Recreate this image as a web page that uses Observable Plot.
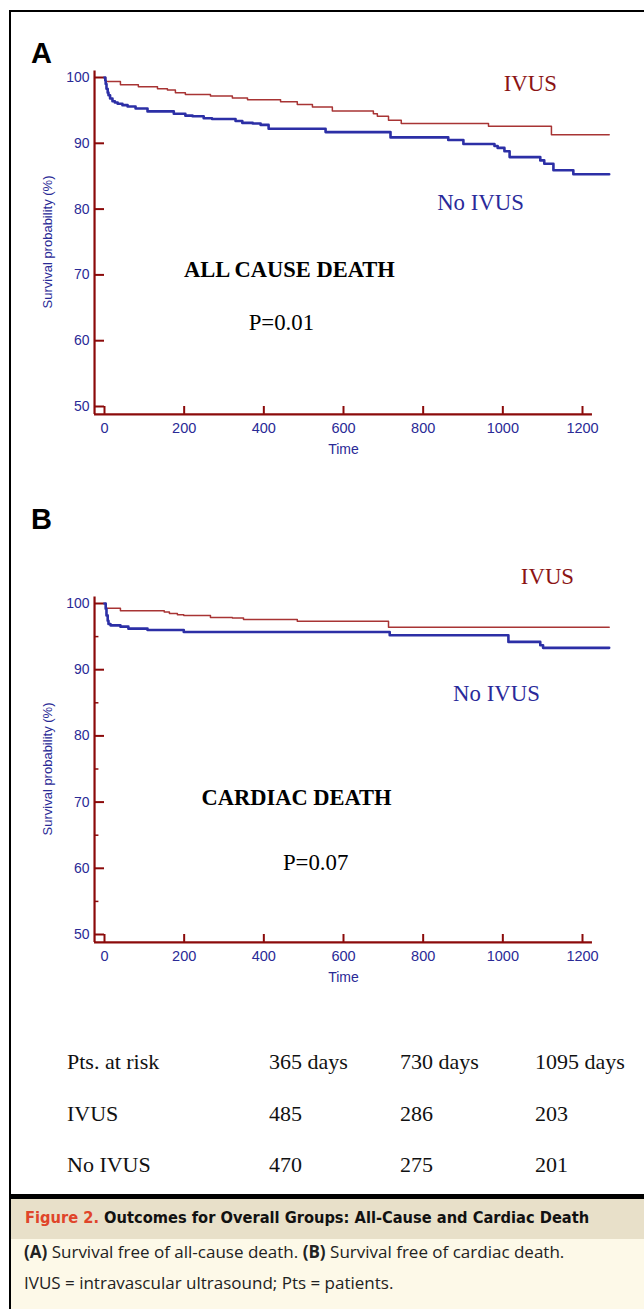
<!DOCTYPE html>
<html>
<head>
<meta charset="utf-8">
<script src="https://cdn.jsdelivr.net/npm/d3@7"></script>
<script src="https://cdn.jsdelivr.net/npm/@observablehq/plot@0.6"></script>
<style>
  html, body { margin: 0; padding: 0; }
  body { width: 644px; height: 1309px; position: relative; overflow: hidden; background: #fff; }
  .abs { position: absolute; }
  .plabel { font-family: "Liberation Sans", Arial, sans-serif; font-weight: bold; font-size: 29px; color: #000; }
  .tbl { font-family: "Liberation Serif", serif; font-size: 22px; color: #111; white-space: nowrap; }
</style>
</head>
<body>
<script>
// ---- Data ----
// Panel A: all-cause death, Kaplan–Meier steps (days, survival %)
const ivusA_days = [0, 3, 40, 85, 133, 158, 178, 203, 266, 321, 359, 442, 484, 522, 572, 675, 685, 713, 745, 964, 1122, 1267];
const ivusA_surv = [100, 99.4, 98.9, 98.6, 98.3, 98.1, 97.7, 97.4, 97.2, 96.9, 96.6, 96.3, 95.9, 95.5, 94.9, 94.5, 94.1, 93.5, 93.0, 92.6, 91.3, 91.3];
const noIvusA_days = [0, 2, 3, 5, 8, 10, 14, 20, 26, 33, 45, 58, 78, 108, 174, 203, 221, 249, 270, 329, 346, 372, 392, 412, 555, 718, 863, 901, 979, 987, 1004, 1017, 1094, 1104, 1127, 1177, 1267];
const noIvusA_surv = [100, 99.5, 99.0, 98.3, 97.7, 97.3, 96.8, 96.4, 96.2, 96.0, 95.8, 95.6, 95.3, 94.85, 94.5, 94.2, 94.1, 93.8, 93.7, 93.4, 93.1, 93.0, 92.8, 92.2, 91.7, 90.9, 90.5, 89.9, 89.6, 89.3, 88.8, 87.9, 87.4, 86.9, 85.9, 85.3, 85.3];
// Panel B: cardiac death
const ivusB_days = [0, 3, 40, 150, 163, 183, 199, 266, 321, 349, 484, 713, 1267];
const ivusB_surv = [100, 99.3, 98.9, 98.7, 98.5, 98.3, 98.2, 97.9, 97.8, 97.6, 97.3, 96.4, 96.4];
const noIvusB_days = [0, 3, 5, 8, 10, 15, 40, 60, 108, 199, 716, 1014, 1094, 1101, 1267];
const noIvusB_surv = [100, 99.2, 98.2, 97.4, 96.9, 96.7, 96.5, 96.2, 96.0, 95.7, 95.2, 94.2, 93.7, 93.3, 93.3];

const xTicks = [0, 200, 400, 600, 800, 1000, 1200];
const yTicks = [50, 60, 70, 80, 90, 100];
const yMinorTicksB = [55, 65, 75, 85, 95];

// Risk table
const riskHeaders = ["Pts. at risk", "365 days", "730 days", "1095 days"];
const riskGroups = ["IVUS", "No IVUS"];
const riskIVUS = [485, 286, 203];
const riskNoIVUS = [470, 275, 201];

// ---- Styles ----
const AXIS = "#8b0a0a";
const LBL = "#2a2a96";
const RED = "#a83434";
const BLUE = "#2c2fa6";
const AXIS_X = -25;   // y-axis line position (days)
const AXIS_Y = 48.8;  // x-axis line position (%)
const SANS = "Liberation Sans, Arial, sans-serif";
const SERIF = "Liberation Serif, serif";

function series(days, surv, group) {
  return days.map((d, i) => ({day: d, surv: surv[i], group}));
}

function panel(opts) {
  const {ivus, noIvus, top, yRange, texts, minor} = opts;
  const marks = [
    Plot.ruleX([AXIS_X], {y1: AXIS_Y, y2: 101, stroke: AXIS, strokeWidth: 2.2}),
    Plot.ruleY([AXIS_Y], {x1: AXIS_X, x2: 1225, stroke: AXIS, strokeWidth: 2.2}),
    Plot.ruleX(xTicks, {x: d => d, y1: AXIS_Y, y2: 50, stroke: AXIS, strokeWidth: 2}),
    Plot.ruleY(yTicks, {y: d => d, x1: AXIS_X, x2: 0, stroke: AXIS, strokeWidth: 2}),
  ];
  if (minor) marks.push(Plot.ruleY(minor, {y: d => d, x1: AXIS_X, x2: -14, stroke: AXIS, strokeWidth: 1.5}));
  marks.push(
    Plot.text(xTicks, {x: d => d, y: AXIS_Y, dy: 14, text: d => String(d), fill: LBL, fontSize: 14.5, fontFamily: SANS}),
    Plot.text(yTicks, {x: AXIS_X, y: d => d, dx: -5, text: d => String(d), textAnchor: "end", fill: LBL, fontSize: 14, fontFamily: SANS}),
    Plot.text(["Time"], {x: 600, y: AXIS_Y, dy: 35, text: d => d, fill: LBL, fontSize: 14, fontFamily: SANS}),
    Plot.text(["Survival probability (%)"], {x: AXIS_X, y: 75, dx: -47, rotate: -90, text: d => d, fill: LBL, fontSize: 13, fontFamily: SANS}),
    Plot.line(ivus, {x: "day", y: "surv", curve: "step-after", stroke: RED, strokeWidth: 1.5}),
    Plot.line(noIvus, {x: "day", y: "surv", curve: "step-after", stroke: BLUE, strokeWidth: 2.6}),
    Plot.text([texts.ivus], {x: d => d.x, y: d => d.y, text: d => d.t, fill: "#8b1414", fontSize: 22.8, fontFamily: SERIF}),
    Plot.text([texts.noIvus], {x: d => d.x, y: d => d.y, text: d => d.t, fill: "#2a2a9a", fontSize: 22.8, fontFamily: SERIF}),
    Plot.text([texts.title], {x: d => d.x, y: d => d.y, text: d => d.t, fill: "#000", fontSize: 22.5, fontWeight: "bold", fontFamily: SERIF}),
    Plot.text([texts.p], {x: d => d.x, y: d => d.y, text: d => d.t, fill: "#000", fontSize: 22.8, fontFamily: SERIF})
  );
  const svg = Plot.plot({
    width: 630,
    height: 430,
    margin: 0,
    style: {background: "transparent", overflow: "visible"},
    x: {domain: [0, 1200], range: [104, 582], axis: null},
    y: {domain: [50, 100], range: yRange, axis: null},
    marks
  });
  svg.style.position = "absolute";
  svg.style.left = "0px";
  svg.style.top = top + "px";
  document.body.appendChild(svg);
}

function box(css, html) {
  const d = document.createElement("div");
  d.className = "abs";
  d.style.cssText = css;
  if (html) d.innerHTML = html;
  document.body.appendChild(d);
  return d;
}
box("left:9px;top:10px;width:700px;height:1186px;border:2px solid #000;box-sizing:border-box;");
box("left:9px;top:1196px;width:700px;height:3px;background:#000;");
box("left:9px;top:1199px;width:700px;height:40px;background:#e8e0c9;");
box("left:9px;top:1239px;width:700px;height:70px;background:#fdf9e8;");
box("left:9px;top:1199px;width:2px;height:110px;background:#000;");

box("left:31px;top:37px;", "<span class='plabel'>A</span>");
box("left:31px;top:503px;", "<span class='plabel'>B</span>");

panel({
  ivus: series(ivusA_days, ivusA_surv, "IVUS"),
  noIvus: series(noIvusA_days, noIvusA_surv, "No IVUS"),
  top: 40,
  yRange: [366, 37],
  texts: {
    ivus: {x: 1069, y: 99.1, t: "IVUS"},
    noIvus: {x: 944, y: 81.0, t: "No IVUS"},
    title: {x: 464, y: 70.7, t: "ALL CAUSE DEATH"},
    p: {x: 444, y: 62.8, t: "P=0.01"}
  }
});
panel({
  ivus: series(ivusB_days, ivusB_surv, "IVUS"),
  noIvus: series(noIvusB_days, noIvusB_surv, "No IVUS"),
  top: 567,
  yRange: [367, 36],
  texts: {
    ivus: {x: 1112, y: 104.1, t: "IVUS"},
    noIvus: {x: 984, y: 86.3, t: "No IVUS"},
    title: {x: 482, y: 70.7, t: "CARDIAC DEATH"},
    p: {x: 530, y: 60.9, t: "P=0.07"}
  },
  minor: yMinorTicksB
});

// Risk table
const colX = [67, 269, 400, 535];
const rowY = [1049, 1101, 1152];
riskHeaders.forEach((h, i) => box(`left:${colX[i]}px;top:${rowY[0]}px;`, `<span class='tbl'>${h}</span>`));
[riskIVUS, riskNoIVUS].forEach((row, r) => {
  box(`left:${colX[0]}px;top:${rowY[r + 1]}px;`, `<span class='tbl'>${riskGroups[r]}</span>`);
  row.forEach((v, i) => box(`left:${colX[i + 1]}px;top:${rowY[r + 1]}px;`, `<span class='tbl'>${v}</span>`));
});

// Caption
box("left:25px;top:1208px;white-space:nowrap;font-family:'DejaVu Sans Condensed','DejaVu Sans',sans-serif;font-stretch:condensed;font-weight:bold;font-size:16.3px;color:#111;",
  "<span style='color:#e0452a'>Figure 2.</span> Outcomes for Overall Groups: All-Cause and Cardiac Death");
box("left:24px;top:1236px;white-space:nowrap;font-family:'Open Sans','Noto Sans',sans-serif;font-size:17px;color:#222;line-height:31px;",
  "<b>(A)</b> Survival free of all-cause death. <b>(B)</b> Survival free of cardiac death.<br>IVUS = intravascular ultrasound; Pts = patients.");
</script>
</body>
</html>
